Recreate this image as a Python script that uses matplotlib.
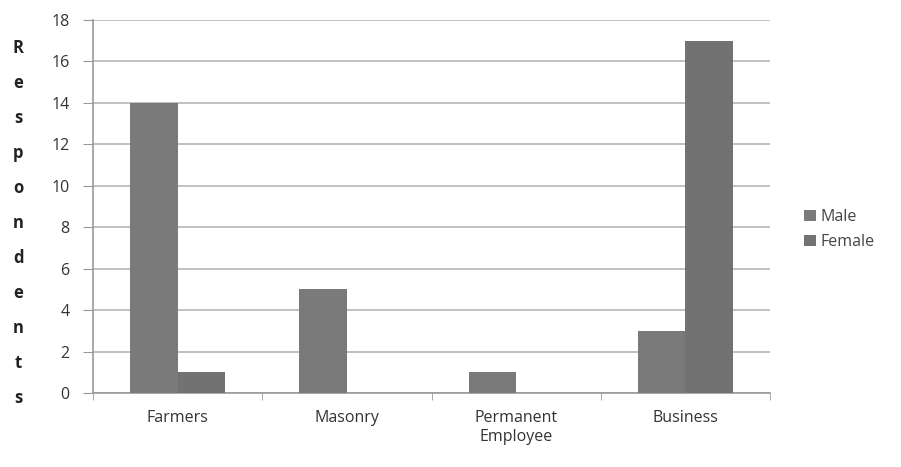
import numpy as np
import matplotlib.pyplot as plt

# data
categories = ['Farmers', 'Masonry', 'Permanent\nEmployee', 'Business']
male = [14, 5, 1, 3]
female = [1, 0, 0, 17]
ylabel_letters = list('Respondents')

plt.rcParams['font.family'] = ['Open Sans', 'DejaVu Sans']
plt.rcParams['font.size'] = 11.5

fig = plt.figure(figsize=(9.01, 4.67), dpi=100)
ax = fig.add_axes([93 / 901, 1 - 393 / 467, (770 - 93) / 901, (393 - 20) / 467])

x = np.arange(len(categories))
w = 0.28
ax.bar(x - w / 2, male, w, color='#7a7a7a', label='Male', zorder=3)
ax.bar(x + w / 2, female, w, color='#727272', label='Female', zorder=3)

ax.set_xlim(-0.5, len(categories) - 0.5)
ax.set_ylim(0, 18)
ax.set_yticks(range(0, 19, 2))
ax.yaxis.grid(True, color='#b5b5b5', linewidth=1.2, zorder=0)

ax.set_xticks(x)
ax.set_xticklabels(categories, color='#333333', linespacing=1.25)
ax.set_xticks(np.arange(-0.5, len(categories)), minor=True)
ax.tick_params(axis='x', which='major', length=0, pad=12)
ax.tick_params(axis='x', which='minor', length=5, color='#999999', direction='out')
ax.tick_params(axis='y', length=7, color='#999999', direction='out', labelcolor='#333333', pad=10)

for side in ['top', 'right']:
    ax.spines[side].set_visible(False)
for side in ['left', 'bottom']:
    ax.spines[side].set_color('#999999')
    ax.spines[side].set_linewidth(1.2)

# stacked vertical axis title
ys = np.linspace(48, 398, len(ylabel_letters))
for ch, yy in zip(ylabel_letters, ys):
    fig.text(18 / 901, 1 - yy / 467, ch, ha='center', va='center',
             fontweight='bold', fontsize=12, color='#222222')

leg = fig.legend(loc='upper left', bbox_to_anchor=(790 / 901, 1 - 195 / 467),
                 frameon=False, handlelength=0.7, handleheight=0.7,
                 handletextpad=0.3, labelspacing=0.55)
for t in leg.get_texts():
    t.set_color('#444444')

plt.savefig('out.png', dpi=100)
